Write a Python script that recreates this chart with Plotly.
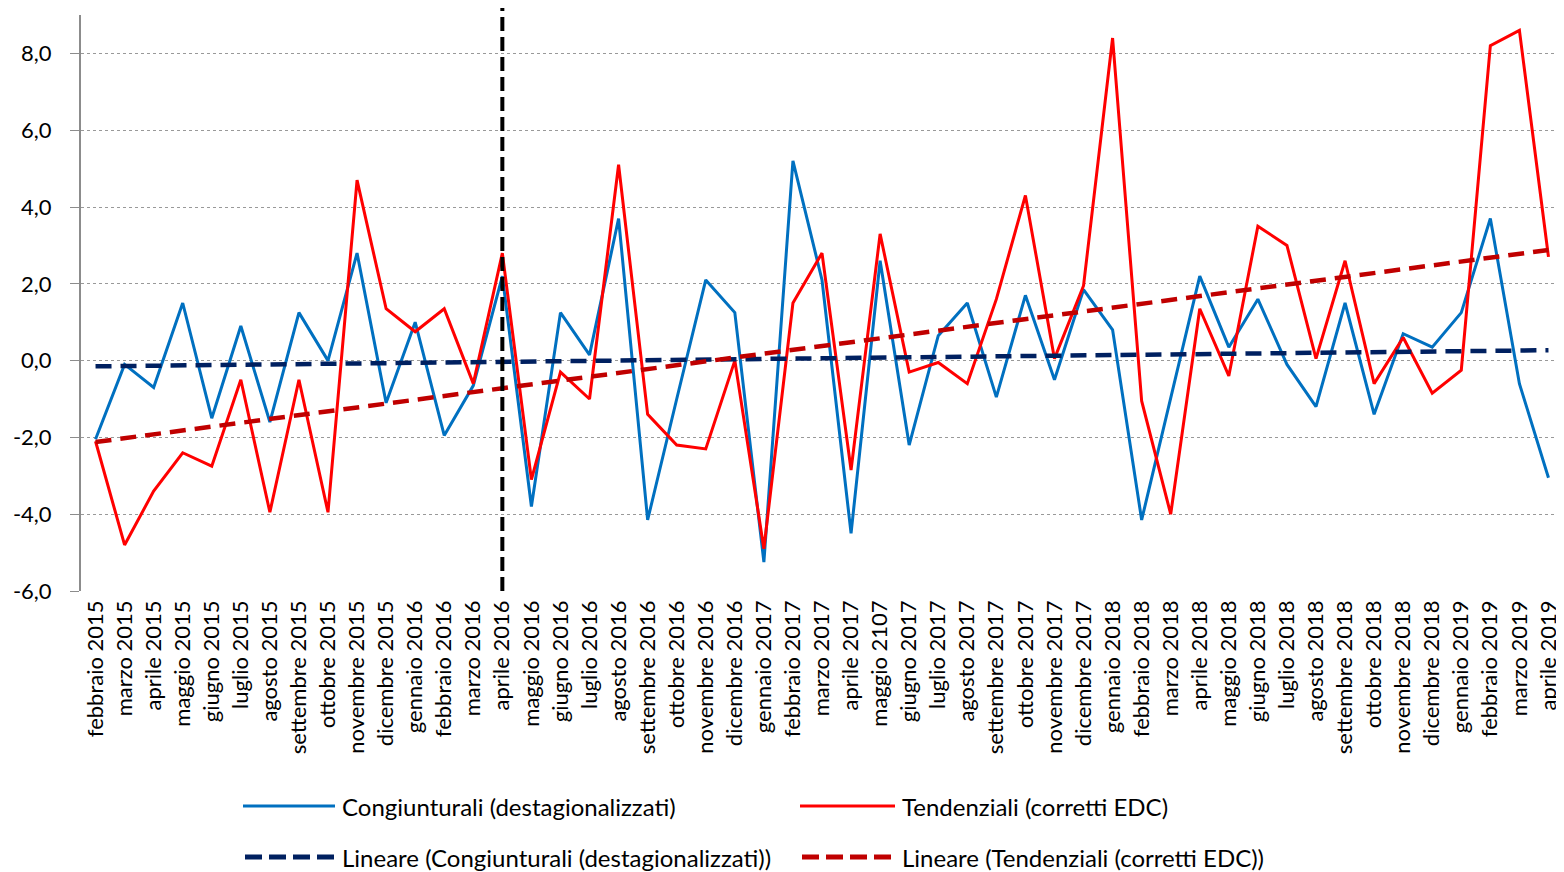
import plotly.graph_objects as go

categories = [
    "febbraio 2015", "marzo 2015", "aprile 2015", "maggio 2015", "giugno 2015", "luglio 2015",
    "agosto 2015", "settembre 2015", "ottobre 2015", "novembre 2015", "dicembre 2015",
    "gennaio 2016", "febbraio 2016", "marzo 2016", "aprile 2016", "maggio 2016", "giugno 2016",
    "luglio 2016", "agosto 2016", "settembre 2016", "ottobre 2016", "novembre 2016",
    "dicembre 2016", "gennaio 2017", "febbraio 2017", "marzo 2017", "aprile 2017",
    "maggio 2107", "giugno 2017", "luglio 2017", "agosto 2017", "settembre 2017",
    "ottobre 2017", "novembre 2017", "dicembre 2017", "gennaio 2018", "febbraio 2018",
    "marzo 2018", "aprile 2018", "maggio 2018", "giugno 2018", "luglio 2018", "agosto 2018",
    "settembre 2018", "ottobre 2018", "novembre 2018", "dicembre 2018", "gennaio 2019",
    "febbraio 2019", "marzo 2019", "aprile 2019",
]

congiunturali = [
    -2.05, -0.1, -0.7, 1.5, -1.5, 0.9, -1.6, 1.25, 0.0, 2.8, -1.1, 1.0, -1.95, -0.65, 2.2,
    -3.8, 1.25, 0.15, 3.7, -4.15, -1.0, 2.1, 1.25, -5.25, 5.2, 2.1, -4.5, 2.6, -2.2, 0.65,
    1.5, -0.95, 1.7, -0.5, 1.85, 0.8, -4.15, -1.0, 2.2, 0.35, 1.6, -0.1, -1.2, 1.5, -1.4,
    0.7, 0.35, 1.25, 3.7, -0.6, -3.05,
]

tendenziali = [
    -2.1, -4.8, -3.4, -2.4, -2.75, -0.5, -3.95, -0.5, -3.95, 4.7, 1.35, 0.75, 1.35, -0.6, 2.8,
    -3.1, -0.3, -1.0, 5.1, -1.4, -2.2, -2.3, 0.0, -4.9, 1.5, 2.8, -2.85, 3.3, -0.3, -0.05,
    -0.6, 1.6, 4.3, 0.05, 1.95, 8.4, -1.05, -4.0, 1.35, -0.4, 3.5, 3.0, 0.05, 2.6, -0.6,
    0.6, -0.85, -0.25, 8.2, 8.6, 2.7,
]

# Trend line endpoints (first and last category)
trend_congiunturali = [-0.15, 0.27]
trend_tendenziali = [-2.12, 2.88]

marker_category = "aprile 2016"

y_tickvals = [-6, -4, -2, 0, 2, 4, 6, 8]
y_ticktext = ["-6,0", "-4,0", "-2,0", "0,0", "2,0", "4,0", "6,0", "8,0"]

names = [
    "Congiunturali (destagionalizzati)",
    "Tendenziali (corretti EDC)",
    "Lineare (Congiunturali (destagionalizzati))",
    "Lineare (Tendenziali (corretti EDC))",
]

BLUE = "#0070C0"
RED = "#FF0000"
NAVY = "#002060"
DARKRED = "#C00000"
FONT = "Lato"

OFF = 8  # page body margin
W, H = 1556, 864
ML, MR, MT, MB = 73, 1, 7, 281
PW = W - ML - MR
PH = H - MT - MB

idx = list(range(len(categories)))

fig = go.Figure()
fig.add_trace(go.Scatter(x=idx, y=congiunturali, mode="lines", name=names[0],
                         line=dict(color=BLUE, width=3), showlegend=False))
fig.add_trace(go.Scatter(x=idx, y=tendenziali, mode="lines", name=names[1],
                         line=dict(color=RED, width=3), showlegend=False))
fig.add_trace(go.Scatter(x=[idx[0], idx[-1]], y=trend_congiunturali, mode="lines", name=names[2],
                         line=dict(color=NAVY, width=4.5, dash="16px,9px"), showlegend=False))
fig.add_trace(go.Scatter(x=[idx[0], idx[-1]], y=trend_tendenziali, mode="lines", name=names[3],
                         line=dict(color=DARKRED, width=4.5, dash="16px,9px"), showlegend=False))

# vertical dashed marker
mi = categories.index(marker_category)
fig.add_shape(type="line", xref="x", yref="paper", x0=mi, x1=mi, y0=0, y1=1.012,
              line=dict(color="black", width=4, dash="14px,6px"), layer="above")


def px_x(px):
    return (px - OFF - ML) / PW


def px_y(py):
    return (H - MB - (py - OFF)) / PH


# manual legend (positions in page pixels)
legend_rows = [
    (806, [(243, 335, 340, BLUE, "solid", 3, names[0]), (800, 895, 900, RED, "solid", 3, names[1])]),
    (857, [(245, 335, 340, NAVY, "17px,7px", 5, names[2]), (802, 895, 900, DARKRED, "17px,7px", 5, names[3])]),
]
for py, entries in legend_rows:
    for x0, x1, tx, col, dash, wdt, label in entries:
        fig.add_shape(type="line", xref="paper", yref="paper", x0=px_x(x0), x1=px_x(x1),
                      y0=px_y(py), y1=px_y(py), line=dict(color=col, width=wdt, dash=dash))
        fig.add_annotation(xref="paper", yref="paper", x=px_x(tx), y=px_y(py), text=label,
                           showarrow=False, xanchor="left", yanchor="middle",
                           font=dict(family=FONT, size=24, color="black"))

fig.update_layout(
    width=W, height=H,
    margin=dict(l=ML, r=MR, t=MT, b=MB, autoexpand=False),
    paper_bgcolor="white", plot_bgcolor="white",
    showlegend=False,
    font=dict(family=FONT, color="black"),
    xaxis=dict(
        range=[-0.5, len(categories) - 0.5],
        tickmode="array", tickvals=idx, ticktext=categories,
        tickangle=-90, tickfont=dict(family=FONT, size=22, color="black"),
        showgrid=False, zeroline=False, showline=False, ticks="",
        ticklabelstandoff=4,
    ),
    xaxis2=dict(
        overlaying="x", anchor="free", position=9 / 15,
        range=[-0.5, len(categories) - 0.5],
        tickmode="array", tickvals=[i + 0.5 for i in idx[:-1]],
        showticklabels=False, ticks="outside", ticklen=5, tickwidth=2, tickcolor="black",
        showline=True, linecolor="black", linewidth=4, showgrid=False, zeroline=False,
    ),
    yaxis=dict(
        range=[-6, 9],
        tickmode="array", tickvals=y_tickvals, ticktext=y_ticktext,
        tickfont=dict(family=FONT, size=22, color="black"),
        showgrid=True, gridcolor="#999999", griddash="dot", gridwidth=1.2,
        zeroline=False,
        showline=True, linecolor="#8c8c8c", linewidth=2,
        ticks="outside", ticklen=9, tickcolor="#8c8c8c",
        ticklabelstandoff=14,
    ),
)

fig.write_html("out.html")
